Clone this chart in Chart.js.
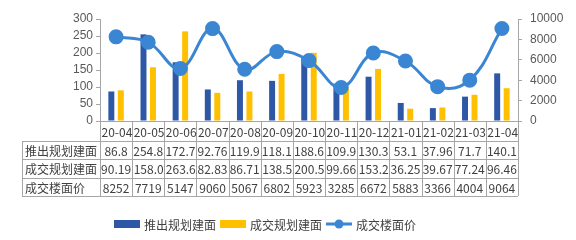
<!DOCTYPE html>
<html>
<head>
<meta charset="utf-8">
<script src="https://cdn.jsdelivr.net/npm/chart.js@4"></script>
<style>
  body { margin: 0; background: #fff; }
</style>
</head>
<body>
<canvas id="myChart" width="576" height="240"></canvas>
<script>
const months = ['20-04', '20-05', '20-06', '20-07', '20-08', '20-09', '20-10', '20-11', '20-12', '21-01', '21-02', '21-03', '21-04'];
const supplyArea = [86.8, 254.8, 172.7, 92.76, 119.9, 118.1, 188.6, 109.9, 130.3, 53.1, 37.96, 71.7, 140.1];
const dealArea = [90.19, 158.02, 263.62, 82.83, 86.71, 138.52, 200.52, 99.66, 153.21, 36.25, 39.67, 77.24, 96.46];
const floorPrice = [8252, 7719, 5147, 9060, 5067, 6802, 5923, 3285, 6672, 5883, 3366, 4004, 9064];
const seriesNames = ['推出规划建面', '成交规划建面', '成交楼面价'];
const leftTicks = [0, 50, 100, 150, 200, 250, 300];
const rightTicks = [0, 2000, 4000, 6000, 8000, 10000];

const BLUE = '#2E58A6';
const YELLOW = '#FFC000';
const LINE = '#3A86D3';
const GRID = '#A6A6A6';
const TEXT = '#404040';

// data table under the x axis + legend, drawn by hand
const tablePlugin = {
    id: 'dataTable',
    afterDraw(chart) {
        const ctx = chart.ctx;
        const area = chart.chartArea;
        const n = months.length;
        const w = (area.right - area.left) / n;
        const rows = [area.bottom, area.bottom + 20, area.bottom + 38, area.bottom + 57, area.bottom + 75];
        const labelLeft = 22;

        ctx.save();
        ctx.strokeStyle = GRID;
        ctx.lineWidth = 1;
        ctx.beginPath();
        for (let i = 0; i <= n; i++) {
            const x = Math.round(area.left + i * w) + 0.5;
            ctx.moveTo(x, rows[0]);
            ctx.lineTo(x, rows[4]);
        }
        for (let r = 1; r <= 4; r++) {
            const y = Math.round(rows[r]) + 0.5;
            ctx.moveTo(labelLeft, y);
            ctx.lineTo(area.right, y);
        }
        ctx.moveTo(labelLeft + 0.5, rows[1]);
        ctx.lineTo(labelLeft + 0.5, rows[4]);
        ctx.stroke();

        ctx.fillStyle = TEXT;
        ctx.textBaseline = 'middle';

        const cell = (txt, i, r) => {
            const x0 = area.left + i * w;
            const yc = (rows[r] + rows[r + 1]) / 2 + 1;
            ctx.save();
            ctx.beginPath();
            ctx.rect(x0 + 1, rows[r], w - 1, rows[r + 1] - rows[r]);
            ctx.clip();
            const tw = ctx.measureText(txt).width;
            if (tw > w - 2) {
                ctx.textAlign = 'left';
                ctx.fillText(txt, x0 + 1.5, yc);
            } else {
                ctx.textAlign = 'center';
                ctx.fillText(txt, x0 + w / 2, yc);
            }
            ctx.restore();
        };

        ctx.font = '12px "Noto Sans CJK SC", sans-serif';
        months.forEach((m, i) => cell(m, i, 0));
        supplyArea.forEach((v, i) => cell(String(v), i, 1));
        dealArea.forEach((v, i) => cell(String(v), i, 2));
        floorPrice.forEach((v, i) => cell(String(v), i, 3));

        ctx.textAlign = 'left';
        for (let r = 1; r <= 3; r++) {
            ctx.fillText(seriesNames[r - 1], labelLeft + 3, (rows[r] + rows[r + 1]) / 2 + 1);
        }

        // legend
        const ly = 224;
        let lx = 114;
        [BLUE, YELLOW].forEach((c, k) => {
            ctx.fillStyle = c;
            ctx.fillRect(lx, ly - 4, 26, 8);
            lx += 30;
            ctx.fillStyle = TEXT;
            ctx.fillText(seriesNames[k], lx, ly + 1);
            lx += ctx.measureText(seriesNames[k]).width + 4;
        });
        ctx.strokeStyle = LINE;
        ctx.lineWidth = 3;
        ctx.beginPath();
        ctx.moveTo(lx, ly);
        ctx.lineTo(lx + 26, ly);
        ctx.stroke();
        ctx.fillStyle = LINE;
        ctx.beginPath();
        ctx.arc(lx + 13, ly, 4.5, 0, Math.PI * 2);
        ctx.fill();
        lx += 30;
        ctx.fillStyle = TEXT;
        ctx.fillText(seriesNames[2], lx, ly + 1);
        ctx.restore();
    }
};

document.addEventListener('DOMContentLoaded', () => {
    const ctx = document.getElementById('myChart');
    new Chart(ctx, {
        type: 'bar',
        data: {
            labels: months,
            datasets: [
                {
                    type: 'line',
                    label: seriesNames[2],
                    data: floorPrice,
                    yAxisID: 'y1',
                    borderColor: LINE,
                    backgroundColor: LINE,
                    borderWidth: 3,
                    pointRadius: 6,
                    pointHoverRadius: 6,
                    tension: 0.4,
                    order: 0
                },
                {
                    label: seriesNames[0],
                    data: supplyArea,
                    yAxisID: 'y',
                    backgroundColor: BLUE,
                    categoryPercentage: 0.59,
                    barPercentage: 0.63,
                    order: 1
                },
                {
                    label: seriesNames[1],
                    data: dealArea,
                    yAxisID: 'y',
                    backgroundColor: YELLOW,
                    categoryPercentage: 0.59,
                    barPercentage: 0.63,
                    order: 1
                }
            ]
        },
        options: {
            responsive: false,
            animation: false,
            layout: { padding: { top: 19, bottom: 44, left: 0, right: 0 } },
            scales: {
                x: {
                    grid: { display: false },
                    ticks: { display: false },
                    border: { color: GRID },
                    afterFit(scale) { scale.height = 75; }
                },
                y: {
                    position: 'left',
                    min: 0,
                    max: 300,
                    afterBuildTicks(scale) { scale.ticks = leftTicks.map(v => ({ value: v })); },
                    ticks: { color: '#595959', font: { size: 12, family: 'Liberation Sans' }, padding: 3, autoSkip: false, callback: v => String(v) },
                    grid: { drawOnChartArea: false, tickLength: 4, color: GRID },
                    border: { color: GRID },
                    afterFit(scale) { scale.width = 100; }
                },
                y1: {
                    position: 'right',
                    min: 0,
                    max: 10000,
                    afterBuildTicks(scale) { scale.ticks = rightTicks.map(v => ({ value: v })); },
                    ticks: { color: '#595959', font: { size: 12, family: 'Liberation Sans' }, padding: 8, autoSkip: false, callback: v => String(v) },
                    grid: { drawOnChartArea: false, tickLength: 4, color: GRID },
                    border: { color: GRID },
                    afterFit(scale) { scale.width = 58; }
                }
            },
            plugins: {
                legend: { display: false },
                tooltip: { enabled: false }
            }
        },
        plugins: [tablePlugin]
    });
});
</script>
</body>
</html>
